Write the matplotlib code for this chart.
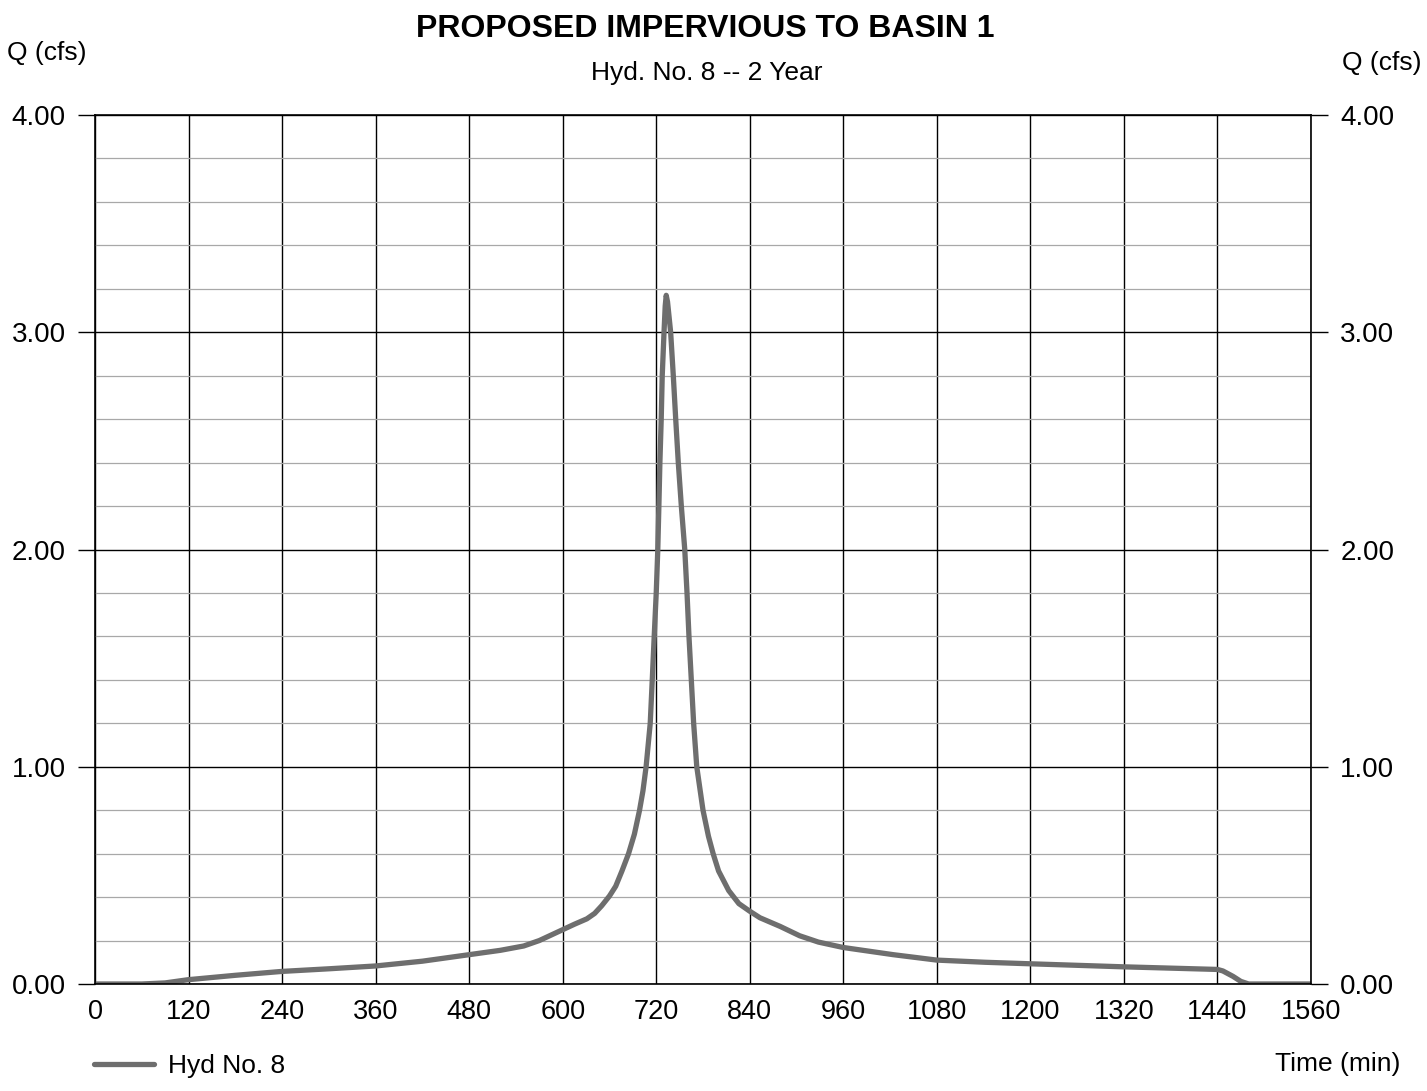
import numpy as np
import matplotlib.pyplot as plt
from matplotlib.ticker import MultipleLocator

plt.rcParams['font.family'] = ['Liberation Sans', 'DejaVu Sans']

# Hydrograph
time_min = [0, 60, 90, 120, 180, 240, 300, 360, 420, 480, 520, 550, 570, 600,
            615, 631, 641, 650, 660, 668, 676, 684.5, 692, 698.6, 703, 707,
            712.3, 714.9, 717.4, 720, 722, 723.4, 724.7, 726.4, 727.7, 730,
            731.5, 732.8, 734.5, 736.5, 738.5, 741.9, 745, 748.3, 752.2, 756.6,
            759.5, 762, 765, 768, 772, 780, 787, 793, 800, 813, 826, 840, 853,
            879, 904, 928, 960, 1024, 1080, 1142, 1200, 1260, 1320, 1380, 1440,
            1447, 1460, 1470, 1480, 1560]
q_cfs = [0.0, 0.0, 0.005, 0.02, 0.04, 0.058, 0.07, 0.083, 0.105, 0.135, 0.155,
         0.175, 0.2, 0.25, 0.275, 0.30, 0.325, 0.36, 0.405, 0.45, 0.52, 0.60,
         0.69, 0.80, 0.89, 1.0, 1.2, 1.4, 1.6, 1.8, 2.0, 2.2, 2.4, 2.6, 2.8,
         3.0, 3.12, 3.17, 3.14, 3.07, 3.0, 2.8, 2.6, 2.4, 2.2, 2.0, 1.8, 1.6,
         1.4, 1.2, 1.0, 0.8, 0.68, 0.6, 0.52, 0.43, 0.37, 0.335, 0.305, 0.265,
         0.222, 0.193, 0.168, 0.135, 0.11, 0.10, 0.093, 0.086, 0.079, 0.073,
         0.067, 0.06, 0.035, 0.012, 0.0, 0.0]

x_ticks = np.arange(0, 1561, 120)
y_ticks = [0, 1, 2, 3, 4]

fig = plt.figure(figsize=(14.27, 10.91), dpi=100)
ax = fig.add_axes([95 / 1427, 1 - 984 / 1091, (1311 - 95) / 1427, (984 - 115) / 1091])

ax.set_xlim(0, 1560)
ax.set_ylim(0, 4)
ax.set_xticks(x_ticks)
ax.set_yticks(y_ticks)
ax.set_yticklabels([f'{v:.2f}' for v in y_ticks])
ax.yaxis.set_minor_locator(MultipleLocator(0.2))

# grid
ax.grid(which='major', axis='both', color='black', lw=1.0)
ax.grid(which='minor', axis='y', color='#a8a8a8', lw=0.9)
ax.set_axisbelow(True)

ax.tick_params(axis='y', which='major', left=True, right=True, labelright=True,
               length=12, width=1.0, pad=9, labelsize=20, direction='out')
ax.tick_params(axis='y', which='minor', length=0)
ax.tick_params(axis='x', length=0, pad=11, labelsize=19.5)
for s in ax.spines.values():
    s.set_linewidth(1.2)

ax.plot(time_min, q_cfs, color='#6e6e6e', lw=3.8, label='Hyd No. 8',
        solid_capstyle='round', solid_joinstyle='round')

fig.text(0.494, 0.973, 'PROPOSED IMPERVIOUS TO BASIN 1', ha='center', va='center',
         fontsize=23, fontweight='bold')
fig.text(0.495, 0.933, 'Hyd. No. 8 -- 2 Year', ha='center', va='center', fontsize=19)
fig.text(0.005, 0.951, 'Q (cfs)', ha='left', va='center', fontsize=19)
fig.text(0.996, 0.942, 'Q (cfs)', ha='right', va='center', fontsize=19)
fig.text(0.981, 0.025, 'Time (min)', ha='right', va='center', fontsize=19)

fig.legend(loc='lower left', bbox_to_anchor=(0.049, -0.010), frameon=False,
           fontsize=19, handlelength=2.3, handletextpad=0.5)

fig.savefig('out.png', dpi=100)
